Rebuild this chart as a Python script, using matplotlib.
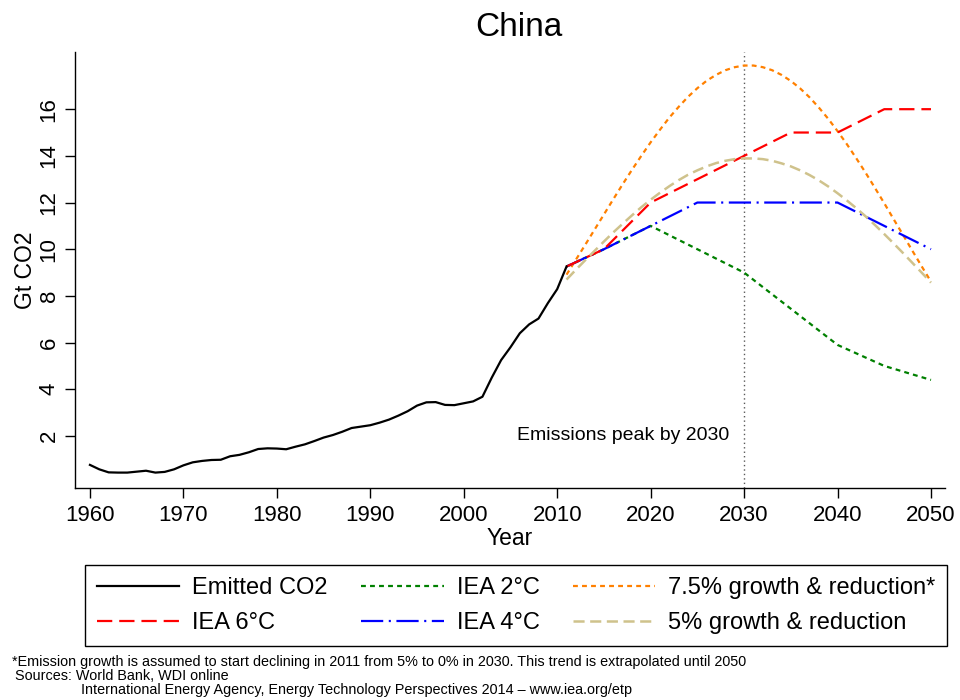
import matplotlib
matplotlib.use("Agg")
import matplotlib.pyplot as plt
from matplotlib import font_manager

# emitted CO2, Gt (World Bank WDI), 1960-2011
hist_years = list(range(1960, 2012))
hist_co2 = [0.76, 0.57, 0.44, 0.43, 0.43, 0.47, 0.51, 0.43, 0.46, 0.57,
            0.74, 0.87, 0.93, 0.97, 0.98, 1.13, 1.19, 1.30, 1.44, 1.47,
            1.46, 1.43, 1.54, 1.64, 1.78, 1.93, 2.04, 2.18, 2.34, 2.40,
            2.46, 2.57, 2.70, 2.87, 3.06, 3.30, 3.44, 3.45, 3.33, 3.32,
            3.40, 3.48, 3.68, 4.50, 5.25, 5.80, 6.40, 6.78, 7.03, 7.69,
            8.29, 9.26]

# IEA ETP 2014 scenarios
iea_years = [2011, 2015, 2020, 2025, 2030, 2035, 2040, 2045, 2050]
iea_6c = [9.26, 10, 12, 13, 14, 15, 15, 16, 16]
iea_4c = [9.26, 10, 11, 12, 12, 12, 12, 11, 10]
iea_2c = [9.26, 10, 11, 10, 9, 7.45, 5.9, 5, 4.4]

# growth & reduction paths, 2011-2050
path_years = list(range(2011, 2051))
growth_75 = [8.91, 9.55, 10.19, 10.84, 11.49, 12.14, 12.78, 13.40, 14.00, 14.58,
             15.12, 15.64, 16.10, 16.53, 16.90, 17.22, 17.47, 17.67, 17.80, 17.87,
             17.87, 17.80, 17.67, 17.47, 17.21, 16.89, 16.51, 16.07, 15.59, 15.06,
             14.50, 13.90, 13.28, 12.63, 11.97, 11.29, 10.62, 9.94, 9.27, 8.61]
growth_5 = [8.70, 9.12, 9.53, 9.93, 10.33, 10.72, 11.09, 11.45, 11.80, 12.12,
            12.42, 12.70, 12.96, 13.19, 13.38, 13.55, 13.69, 13.79, 13.86, 13.89,
            13.89, 13.86, 13.79, 13.68, 13.55, 13.38, 13.18, 12.95, 12.69, 12.40,
            12.09, 11.76, 11.41, 11.04, 10.65, 10.25, 9.84, 9.42, 9.00, 8.57]

x_ticks = list(range(1960, 2051, 10))
y_ticks = list(range(2, 17, 2))

installed = {f.name for f in font_manager.fontManager.ttflist}
narrow = "Liberation Sans Narrow" if "Liberation Sans Narrow" in installed else "Liberation Sans"

plt.rcParams["font.family"] = ["Liberation Sans", "DejaVu Sans"]
plt.rcParams["lines.scale_dashes"] = False

fig = plt.figure(figsize=(9.6, 7), dpi=100)
ax = fig.add_axes([75 / 960, 1 - 488 / 700, 870 / 960, 436 / 700])

ax.axvline(2030, color="0.35", lw=1, ls=(0, (1, 2.2)), zorder=1)

ax.plot(hist_years, hist_co2, color="black", lw=1.6, label="Emitted CO2", zorder=5)
ax.plot(iea_years, iea_2c, color="#008000", lw=1.6, ls=(0, (3.5, 3)), label="IEA 2°C", zorder=2)
ax.plot(path_years, growth_75, color="#FF8000", lw=1.6, ls=(0, (3.5, 3)),
        label="7.5% growth & reduction*", zorder=3)
ax.plot(iea_years, iea_4c, color="#0000FF", lw=1.6, ls=(0, (16, 4, 1.5, 4)), label="IEA 4°C", zorder=3)
ax.plot(iea_years, iea_6c, color="#FF0000", lw=1.6, ls=(0, (11, 5)), label="IEA 6°C", zorder=4)
ax.plot(path_years, growth_5, color="#CFC28C", lw=1.8, ls=(0, (8, 4)),
        label="5% growth & reduction", zorder=4)

ax.text(2028.4, 2, "Emissions peak by 2030", ha="right", va="center", fontsize=14)

ax.set_xlim(1958.4, 2051.5)
ax.set_ylim(-0.23, 18.45)
ax.set_xticks(x_ticks)
ax.set_yticks(y_ticks)
ax.tick_params(axis="both", labelsize=16, length=7, width=1, color="black")
ax.tick_params(axis="x", pad=5)
ax.tick_params(axis="y", pad=4, labelrotation=90)
for lab in ax.get_yticklabels():
    lab.set_va("center")
for side in ["top", "right"]:
    ax.spines[side].set_visible(False)
for side in ["left", "bottom"]:
    ax.spines[side].set_linewidth(1)

ax.set_xlabel("Year", fontsize=16.5, labelpad=1)
ax.set_ylabel("Gt CO2", fontsize=16.5, labelpad=1)

fig.text(519 / 960, 1 - 27 / 700, "China", ha="center", va="center", fontsize=24)

# legend filled column by column: col1 = emitted/6C, col2 = 2C/4C, col3 = 7.5%/5%
h, l = ax.get_legend_handles_labels()
order = [0, 4, 1, 3, 2, 5]
leg = fig.legend([h[i] for i in order], [l[i] for i in order], ncol=3,
                 loc="upper left", bbox_to_anchor=(85 / 960, 1 - 565 / 700),
                 fontsize=17, frameon=True, fancybox=False, framealpha=1,
                 edgecolor="black", borderaxespad=0, borderpad=0.5,
                 handlelength=3.5, handletextpad=0.55, columnspacing=1.4,
                 labelspacing=0.55)
leg.get_frame().set_linewidth(1)

notes = [
    (12, 662, "*Emission growth is assumed to start declining in 2011 from 5% to 0% in 2030. This trend is extrapolated until 2050"),
    (15, 676, "Sources: World Bank, WDI online"),
    (81, 690, "International Energy Agency, Energy Technology Perspectives 2014 \u2013 www.iea.org/etp"),
]
for x, y, s in notes:
    fig.text(x / 960, 1 - y / 700, s, ha="left", va="center", fontsize=10.4, family=narrow)

fig.savefig("out.png", dpi=100)
